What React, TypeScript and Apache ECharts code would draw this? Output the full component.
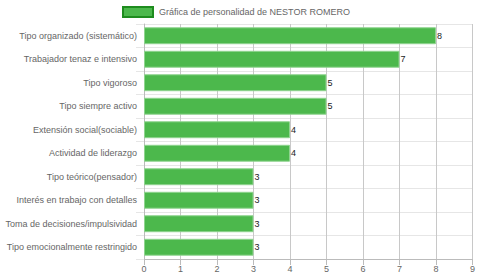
import React, { useEffect, useRef } from "react";
import * as echarts from "echarts";

const categories = [
  "Tipo organizado (sistemático)",
  "Trabajador tenaz e intensivo",
  "Tipo vigoroso",
  "Tipo siempre activo",
  "Extensión social(sociable)",
  "Actividad de liderazgo",
  "Tipo teórico(pensador)",
  "Interés en trabajo con detalles",
  "Toma de decisiones/impulsividad",
  "Tipo emocionalmente restringido",
];
const values = [8, 7, 5, 5, 4, 4, 3, 3, 3, 3];
const seriesName = "Gráfica de personalidad de NESTOR ROMERO";

const FONT = "Liberation Sans, Arial, sans-serif";

export default function App() {
  const ref = useRef<HTMLDivElement>(null);
  useEffect(() => {
    const chart = echarts.init(ref.current!, null, { renderer: "svg" });
    chart.setOption({
      animation: false,
      textStyle: { fontFamily: FONT },
      legend: {
        top: 6,
        left: 122,
        padding: 0,
        itemWidth: 30,
        itemHeight: 10,
        itemGap: 6,
        textStyle: { color: "#666", fontSize: 9, fontFamily: FONT, padding: [0, 0, 0, 1] },
        data: [
          {
            name: seriesName,
            icon: "rect",
            itemStyle: { color: "#4cb84c", borderColor: "#1e8c1e", borderWidth: 2 },
          },
        ],
      },
      grid: { left: 144, right: 5, top: 24, bottom: 20, containLabel: false },
      xAxis: {
        type: "value",
        min: 0,
        max: 9,
        interval: 1,
        axisLine: { show: true, lineStyle: { color: "#bbb" } },
        axisTick: { show: true, length: 6, lineStyle: { color: "#bbb" } },
        axisLabel: { color: "#666", fontSize: 9, margin: 5, fontFamily: FONT },
        splitLine: { show: true, lineStyle: { color: "#c8c8c8" } },
      },
      yAxis: {
        type: "category",
        inverse: true,
        data: categories,
        axisLine: { show: true, lineStyle: { color: "#bbb" } },
        axisTick: { show: true, length: 8, lineStyle: { color: "#e6e6e6" } },
        axisLabel: { color: "#666", fontSize: 9, margin: 7, fontFamily: FONT },
        splitLine: { show: true, lineStyle: { color: "#e6e6e6" } },
      },
      series: [
        {
          name: seriesName,
          type: "bar",
          data: values,
          barWidth: "72%",
          itemStyle: { color: "#4cb84c", borderColor: "#8fd48f", borderWidth: 1 },
          label: {
            show: true,
            position: "right",
            distance: 1,
            color: "#222",
            fontSize: 9,
            fontFamily: FONT,
          },
        },
      ],
    });
    return () => chart.dispose();
  }, []);
  return (
    <div
      ref={ref}
      style={{ position: "absolute", left: 0, top: 0, width: 478, height: 279 }}
    />
  );
}
